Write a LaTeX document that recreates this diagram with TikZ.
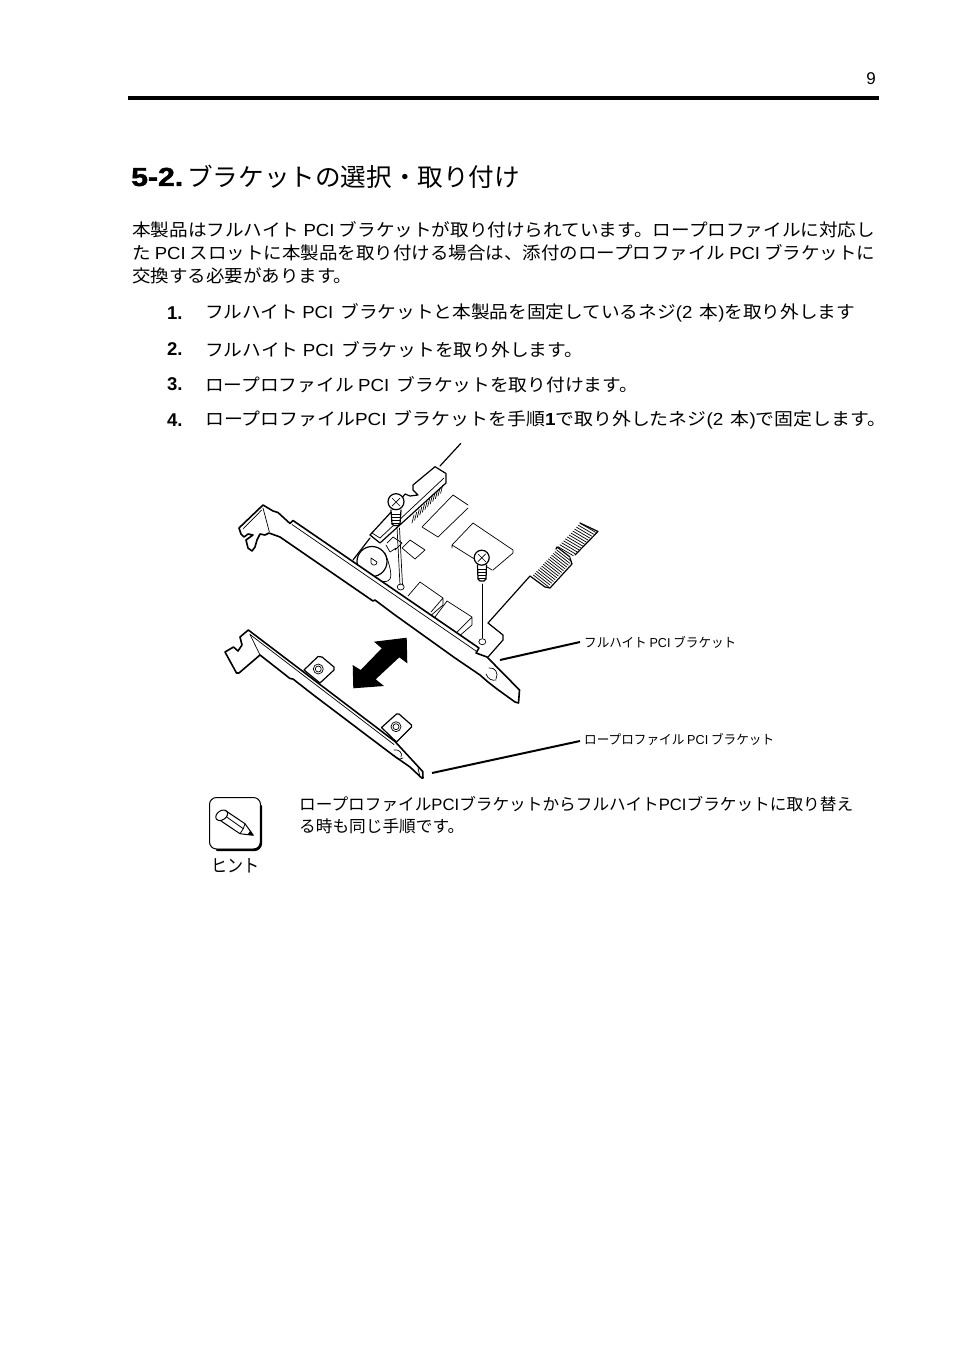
\documentclass[tikz,border=0pt]{standalone}
\usepackage{fontspec}
\usepackage{graphicx}
\setmainfont{Noto Sans CJK JP}
\newfontfamily\lat{Liberation Sans}
\newfontfamily\heavy[FakeBold=1.6]{Liberation Sans Bold}
\newcommand{\fit}[2]{\resizebox{#1pt}{\height}{#2}}
\newcommand{\LP}[1]{{\lat #1}}
\tikzset{
 body/.style={anchor=west,inner sep=0pt,font=\fontsize{17.5}{18}\selectfont},
 num/.style={anchor=west,inner sep=0pt,font=\fontsize{18.5}{18}\selectfont\lat\bfseries},
 small/.style={anchor=west,inner sep=0pt,font=\fontsize{13}{14}\selectfont},
 hint/.style={anchor=west,inner sep=0pt,font=\fontsize{16.5}{18}\selectfont},
 hv/.style={line width=1.6pt,line join=round,line cap=round},
 md/.style={line width=1.2pt,line join=round,line cap=round},
 tn/.style={line width=0.7pt,line join=round,line cap=round},
 leader/.style={line width=2pt},
}
\begin{document}
\begin{tikzpicture}[x=1pt,y=-1pt]
\useasboundingbox (0,0) rectangle (954,1351);
\fill[white] (0,0) rectangle (954,1351);
% header
\node[anchor=east,inner sep=0pt,font=\fontsize{17}{17}\selectfont\lat] (pg) at (876,79) {9};
\coordinate (ruleL) at (128,98); \coordinate (ruleR) at (879,98);
\draw[line width=4pt] (ruleL) -- (ruleR);
% title
\node[anchor=west,inner sep=0pt,font=\fontsize{26}{26}\selectfont\heavy] (t1) at (131,177) {\fit{52}{5-2.}};
\node[anchor=west,inner sep=0pt,font=\fontsize{25}{26}\selectfont] (t2) at (187,177) {\fit{333}{ブラケットの選択・取り付け}};
% body
\node[body] (l1) at (132,229.3) {\fit{743}{本製品はフルハイト \LP{PCI} ブラケットが取り付けられています。ロープロファイルに対応し}};
\node[body] (l2) at (132,253) {\fit{743}{た \LP{PCI} スロットに本製品を取り付ける場合は、添付のロープロファイル \LP{PCI} ブラケットに}};
\node[body] (l3) at (132,276.3) {\fit{220}{交換する必要があります。}};
\node[num] (n1) at (167,313) {1.};
\node[body] (s1) at (205,313.3) {\fit{650}{フルハイト \LP{PCI}\, ブラケットと本製品を固定しているネジ\LP{(2}\, 本\LP{)}を取り外します}};
\node[num] (n2) at (167,349) {2.};
\node[body] (s2) at (205,349.3) {\fit{378}{フルハイト \LP{PCI}\, ブラケットを取り外します。}};
\node[num] (n3) at (167,384) {3.};
\node[body] (s3) at (205,384.3) {\fit{433}{ロープロファイル \LP{PCI}\, ブラケットを取り付けます。}};
\node[num] (n4) at (167,420) {4.};
\node[body] (s4) at (205,420.3) {\fit{681}{ロープロファイル\LP{PCI}\, ブラケットを手順\LP{\textbf{1}}で取り外したネジ\LP{(2}\, 本\LP{)}で固定します。}};
% --- board
\draw[md] (353,560) -- (370,538);
\draw[md] (370,535) -- (393,510);
\draw[md] (370,535) -- (380,543) -- (446,483) -- (446,473.5) -- (435,466.7) -- (413,485) -- (413,490) -- (418,495) -- (410,496) -- (405,494) -- (393,510);
\draw[md] (440,466) -- (460.7,443.5);
\draw[tn] (372,533) -- (380,538) -- (444,478);
\foreach \i in {0,...,11}{
  \draw[tn] ({414+\i*2.6},{515-\i*2.7}) -- ({412+\i*2.6},{523-\i*2.7});
}
% chips
\draw[tn] (422,527) -- (453,495) -- (468,505) (468,508) -- (438,537) -- (422,527);
\draw[tn] (452,545) -- (473,523) -- (513,550) (492,570) -- (452,545) (452,545) -- (452,548) (513,550) -- (513,553) -- (493,570);
\draw[tn] (402,548) -- (410,540) -- (425,550) -- (415,559) -- (402,548);
\draw[tn] (387,543) -- (393,537) -- (402,543) -- (395,550) (386,545) -- (390,552) -- (396,548);
% ports
\draw[tn] (408,596) -- (420,582) -- (443,598) -- (443,605) -- (428,618) (431,612) -- (443,598);
\draw[tn] (435,617) -- (447,601) -- (472,617) -- (472,625) -- (457,638) (457,632) -- (472,617) (435,617) -- (443,628);
% capacitor
\draw[tn,fill=white] (385,553) .. controls (390,565) and (392,575) .. (390,579) .. controls (385,585) and (378,580) .. (362,572);
\draw[md,fill=white] (372,561.5) circle (15pt);
\draw[tn] (371,558) -- (371,563) .. controls (372,566) and (377,566) .. (377,562) -- (371,558);
% cable edge and rear tab
\draw[md] (488,623) -- (530,576) -- (545,587) -- (550,588) -- (572,564) -- (570,558) (556,549) -- (557,547) -- (570,557);
\draw[md] (488,623) -- (503,635) -- (503,640) -- (488,657);
\draw[md] (580,523) -- (598,531.5) -- (575,555);
\foreach \i in {0,...,14}{
  \draw[tn] ({533.3+\i*1.67},{575-\i*1.79}) -- ({548.3+\i*1.67},{586.7-\i*1.79});
}
\foreach \i in {0,...,12}{
  \draw[tn] ({558+\i*1.85},{546.7-\i*1.95}) -- ({573.3+\i*1.85},{555.7-\i*1.95});
}
% --- full-height bracket
\draw[hv,fill=white] (239,528) -- (241,534) -- (244,537) -- (248,534) -- (253,535) -- (246,540) -- (248,548) -- (252,551) -- (255,547) -- (257,540) -- (260,534) -- (265,535) -- (269,533) -- (280,537)
  -- (373,601) -- (375,600) -- (395,615) -- (455,658) -- (480,675) -- (488,682) -- (497,689) -- (515,702) -- (518.5,703) -- (519.5,690) -- (487,657) -- (476,653) -- (479,648)
  -- (293,520.5) -- (290,523.5) -- (278,512.5) -- (273,511) -- (263,505) -- cycle;
\draw[tn] (292,524.5) -- (476,651);
\draw[tn] (263,508) -- (269.3,531.7) (261.7,510) -- (243,529);
\draw[tn] (489,668) .. controls (495,667) and (499,673) .. (496,679);
\draw[tn] (486,674) .. controls (488,679) and (492,681) .. (496,680);
% holes
\draw[tn,fill=white] (400.7,587) ellipse (3.5pt and 3pt);
\draw[tn,fill=white] (482.3,641.7) ellipse (3.5pt and 3pt);
% guide lines
\draw[tn] (397,527) -- (400,585) (399.5,528) -- (402.5,585);
\draw[tn] (482.3,584) -- (482.3,638);
% screws
\draw[md,fill=white] (391,510) -- (392,524) -- (394,525.5) -- (398,525.5) -- (400,524) -- (401,510);
\draw[md,fill=white] (396,501.7) circle (8pt);
\draw[tn] (392,498) -- (400,506) (400,498) -- (392,506);
\foreach \y in {514,517,520,523}{\draw[tn] (391.5,\y) -- (400.5,\y);}
\draw[md,fill=white] (477.5,565) -- (478,579) -- (480,581) -- (484,581) -- (486,579) -- (486.5,565);
\draw[md,fill=white] (481.7,557.7) circle (7.5pt);
\draw[tn] (478,554) -- (485.5,561.5) (485.5,554) -- (478,561.5);
\foreach \y in {569,572,575,578}{\draw[tn] (478,\y) -- (486,\y);}
% --- low-profile bracket
\draw[md,fill=white] (304,670) -- (318,656.5) -- (322,657) -- (334,667) -- (334,670) -- (320,683) -- cycle;
\draw[tn] (318.3,669) circle (5pt) (318.3,669) circle (3pt);
\draw[md,fill=white] (381.5,727.5) -- (396.5,714) -- (399,714) -- (411.5,725) -- (411.5,727) -- (396.5,742) -- cycle;
\draw[tn] (396,726.7) circle (5pt) (396,726.7) circle (3pt);
\draw[hv,fill=white] (248.3,630) -- (240,637) -- (242,645) -- (238,651) -- (233.5,647) -- (225,652) -- (236.5,673) -- (239,673) -- (260,655) -- (290,678.5) -- (293,679) -- (313.5,695) -- (367,735.5) -- (393.5,755.5) -- (410,767) -- (421.7,778) -- (423,778) -- (422.7,771.5) -- (395,741.5) -- cycle;
\draw[tn] (250,634.5) -- (394,744.5);
\draw[tn] (250,634.5) -- (260,655);
\draw[tn] (394,750) .. controls (399,749) and (403,753) .. (401,757);
\draw[tn] (394,755) .. controls (396,759) and (399,760) .. (403,758);
\draw[tn] (418,768) -- (420,777);
% double arrow
\fill[black] (406.7,637.7) -- (374,641.7) -- (381.7,648.3) -- (360.7,670) -- (352.7,665) -- (353.3,688.3) -- (384,686) -- (375.7,679.3) -- (399.3,657.3) -- (407.3,663.3) -- cycle;
% labels and leaders
\node[small] (lab1) at (584,642) {\fit{152}{フルハイト \LP{PCI} ブラケット}};
\node[small] (lab2) at (584,739) {\fit{190}{ロープロファイル \LP{PCI} ブラケット}};
\coordinate (fullend) at (500,660);
\coordinate (lowend) at (432,773);
\draw[leader] (fullend) -- (580,642);
\draw[leader] (lowend) -- (580,741);
% hint icon
\draw[line width=1pt,rounded corners=7pt] (209.5,797.5) rectangle (260.5,849);
\draw[line width=2.4pt,line cap=round,rounded corners=7pt] (261,806) -- (261,850) -- (217,850);
\draw[line width=1pt,line join=round] (225,810.3) -- (245,823.7) -- (253.3,835.3) -- (240,833.7) -- (220,820.3);
\draw[line width=1pt,rotate around={35:(221.7,815.3)}] (221.7,815.3) ellipse (6.5pt and 4.5pt);
\draw[line width=0.8pt] (226.7,817) -- (243.3,828.7) -- (240,833.7) (243.3,828.7) -- (245,823.7);
\fill (253.3,835.3) -- (247.5,834.5) -- (250.5,830.5) -- cycle;
\node[anchor=center,inner sep=0pt,font=\fontsize{18}{18}\selectfont] (hintlab) at (235,866) {\fit{48}{ヒント}};
\node[hint] (h1) at (299,804) {\fit{554}{ロープロファイル\LP{PCI}ブラケットからフルハイト\LP{PCI}ブラケットに取り替え}};
\node[hint] (h2) at (299,826) {\fit{165}{る時も同じ手順です。}};
\end{tikzpicture}
\end{document}
